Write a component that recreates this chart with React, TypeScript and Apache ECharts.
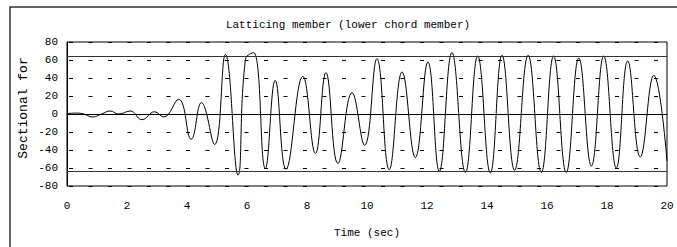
import React, { useEffect, useRef } from "react";
import * as echarts from "echarts";

const titleText = "Latticing member (lower chord member)";
const xName = "Time (sec)";
const yName = "Sectional for";
const limitValues = [64, -64];

const times = [
  0, 0.3, 0.5, 0.86, 1.15, 1.44, 1.72, 2.11, 2.5, 2.92, 3.22, 3.72, 4.14, 4.48,
  4.92, 5.28, 5.7, 5.95, 6.22, 6.61, 6.94, 7.3, 7.86, 8.28, 8.63, 9.03, 9.5,
  9.92, 10.33, 10.74, 11.17, 11.61, 12.03, 12.41, 12.83, 13.28, 13.69, 14.11,
  14.5, 14.92, 15.37, 15.81, 16.22, 16.64, 17.06, 17.48, 17.89, 18.31, 18.69,
  19.11, 19.56, 20,
];
const forces = [
  0.5, 1, 0.5, -3.3, 0, 3.3, 0, 3.3, -6.3, 2.5, -3.3, 16.3, -28, 12.6, -34,
  66.3, -68, 61, 68.2, -60.7, 37.4, -61.4, 41.9, -44, 46, -55, 23.7, -34.8,
  61.5, -61.8, 46.7, -48.5, 57.8, -63.7, 68.2, -65, 64.4, -65.5, 65.2, -62.5,
  65.2, -65, 64.4, -65, 62.2, -57.8, 64.4, -60, 58.9, -47.8, 43, -52,
];

const mono = "'Liberation Mono', 'DejaVu Sans Mono', monospace";

export default function App() {
  const ref = useRef<HTMLDivElement>(null);
  useEffect(() => {
    document.body.style.margin = "0";
    const chart = echarts.init(ref.current!, null, { renderer: "svg" });
    const data = times.map((t, i) => [t, forces[i]]);
    chart.setOption({
      animation: false,
      backgroundColor: "#ffffff",
      graphic: [
        {
          type: "rect",
          shape: { x: 10, y: 7, width: 672, height: 260 },
          style: { fill: "none", stroke: "#333", lineWidth: 1.5 },
          silent: true,
        },
        {
          type: "text",
          x: 348,
          y: 25,
          style: {
            text: titleText,
            font: `11px ${mono}`,
            fill: "#000",
            textAlign: "center",
            textVerticalAlign: "middle",
          },
        },
        {
          type: "text",
          x: 23,
          y: 108,
          rotation: Math.PI / 2,
          style: {
            text: yName,
            font: `13px ${mono}`,
            fill: "#000",
            textAlign: "center",
            textVerticalAlign: "middle",
          },
        },
      ],
      grid: {
        left: 67,
        right: 10,
        top: 42,
        bottom: 61,
        show: true,
        borderColor: "#000",
        borderWidth: 1,
        backgroundColor: "transparent",
      },
      xAxis: {
        type: "value",
        min: 0,
        max: 20,
        interval: 2,
        name: xName,
        nameLocation: "middle",
        nameGap: 41,
        nameTextStyle: { fontFamily: mono, fontSize: 11, color: "#000" },
        axisLine: { show: true, lineStyle: { color: "#000", width: 1 } },
        axisTick: { show: false },
        splitLine: { show: false },
        axisLabel: { fontFamily: mono, fontSize: 11, color: "#000", margin: 14 },
      },
      yAxis: {
        type: "value",
        min: -80,
        max: 80,
        interval: 20,
        axisLine: { show: true, lineStyle: { color: "#000", width: 1 } },
        axisTick: { show: false },
        splitLine: {
          show: true,
          lineStyle: { color: "#000", width: 1, type: [4, 15.5], dashOffset: -2 },
        },
        axisLabel: { fontFamily: mono, fontSize: 11, color: "#000", margin: 9 },
      },
      series: [
        {
          type: "line",
          data,
          smooth: 0.45,
          showSymbol: false,
          symbol: "none",
          lineStyle: { color: "#000", width: 1 },
          markLine: {
            silent: true,
            symbol: "none",
            label: { show: false },
            lineStyle: { color: "#000", width: 1, type: "solid" },
            data: [
              { yAxis: 0 },
              ...limitValues.map((v) => ({ yAxis: v, lineStyle: { color: "#333", width: 1, type: "solid" } })),
            ],
          },
        },
      ],
    });
    return () => chart.dispose();
  }, []);
  return <div ref={ref} style={{ width: 677, height: 247 }} />;
}
